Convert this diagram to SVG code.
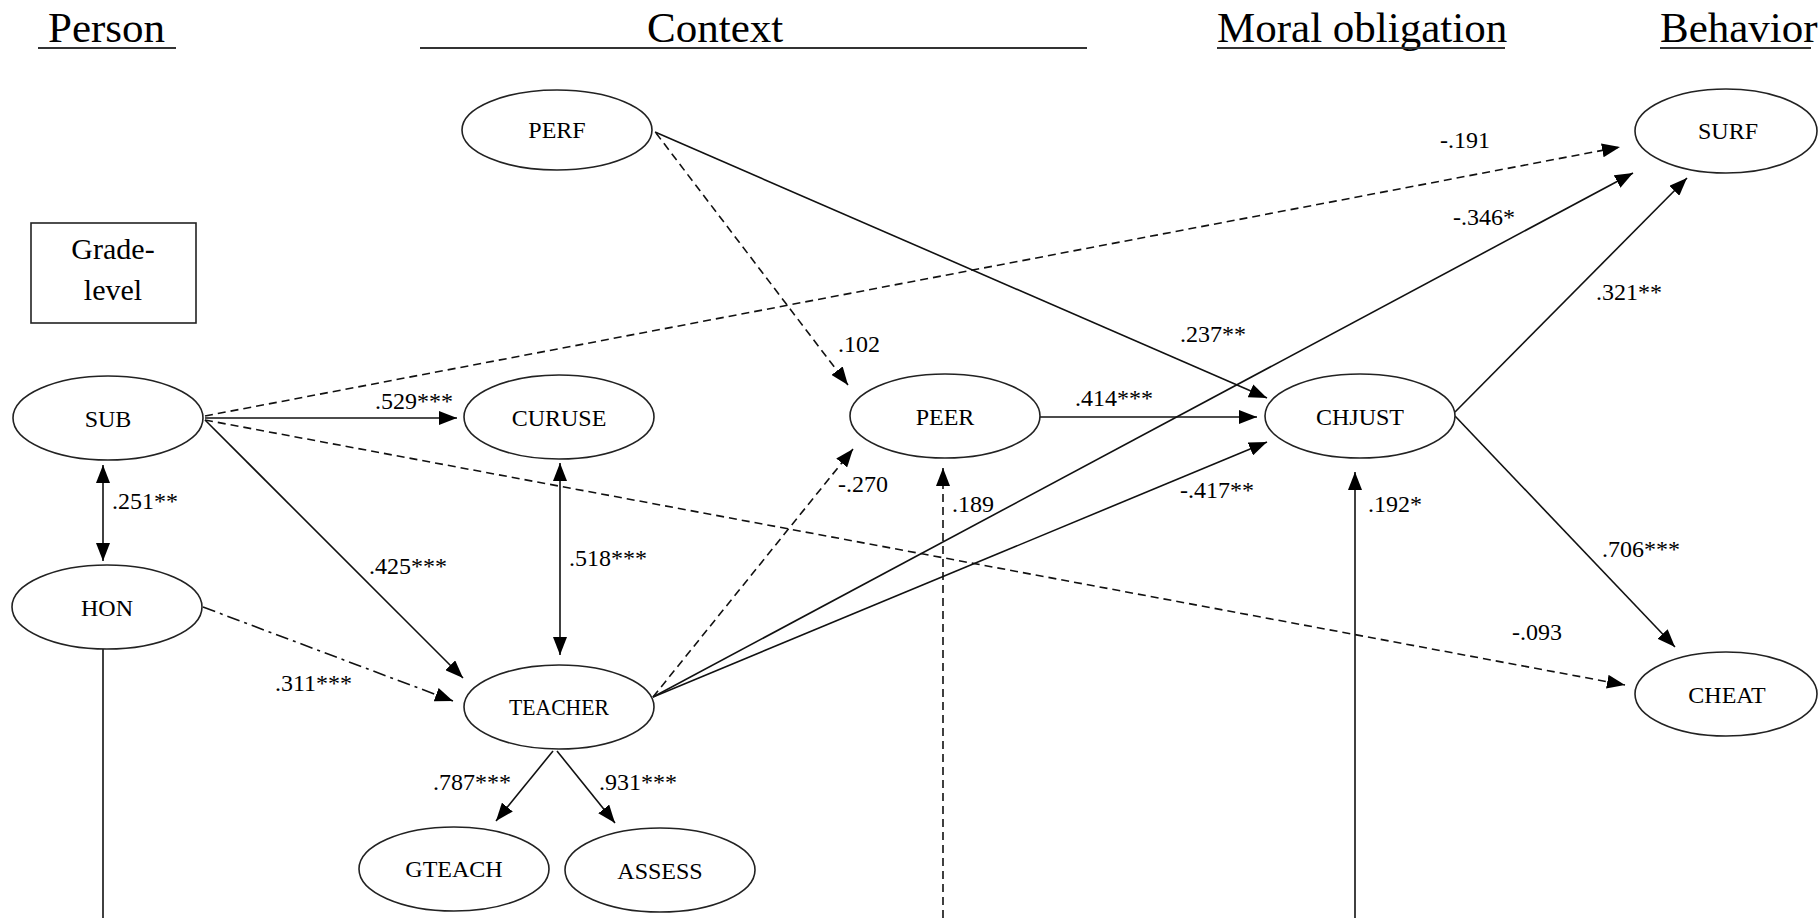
<svg xmlns="http://www.w3.org/2000/svg" width="1818" height="918" viewBox="0 0 1818 918">
  <style>
    text { font-family: "Liberation Serif", "Times New Roman", serif; fill: #000; }
    .hdr { font-size: 43px; }
    .lbl { font-size: 24px; text-anchor: middle; }
    .coef { font-size: 24px; }
    .box { font-size: 30px; text-anchor: middle; }
    .node { fill: #fff; stroke: #222; stroke-width: 1.6; }
    .ul { stroke: #333; stroke-width: 2.2; }
    .edge { fill: none; stroke: #111; stroke-width: 1.6; }
    .dash { stroke-dasharray: 8 5; }
    .dashdot { stroke-dasharray: 13 5 3 5; }
    .arr { marker-end: url(#ah); }
    .both { marker-start: url(#ah); marker-end: url(#ah); }
  </style>
  <defs>
    <marker id="ah" viewBox="0 0 18 14" refX="18" refY="7" markerWidth="18" markerHeight="14" markerUnits="userSpaceOnUse" orient="auto-start-reverse">
      <path d="M0,0 L18,7 L0,14 Z" fill="#000"/>
    </marker>
  </defs>

  <rect width="1818" height="918" fill="#fff"/>

  <!-- column headings -->
  <g id="headers">
    <text class="hdr" x="48" y="42">Person</text>
    <line class="ul" x1="38" y1="48" x2="176" y2="48"/>
    <text class="hdr" x="647" y="42">Context</text>
    <line class="ul" x1="420" y1="48" x2="1087" y2="48"/>
    <text class="hdr" x="1217" y="42">Moral obligation</text>
    <line class="ul" x1="1217" y1="48" x2="1505" y2="48"/>
    <text class="hdr" x="1660" y="42">Behavior</text>
    <line class="ul" x1="1660" y1="48" x2="1811" y2="48"/>
  </g>

  <!-- paths -->
  <g id="connectors">
    <line class="edge arr" x1="205" y1="418" x2="457" y2="418"/>
    <line class="edge dash arr" x1="205" y1="416" x2="1620" y2="147"/>
    <line class="edge dash arr" x1="205" y1="420" x2="1625" y2="685"/>
    <line class="edge arr" x1="205" y1="420" x2="463" y2="678"/>
    <line class="edge both" x1="103" y1="465" x2="103" y2="561"/>
    <line class="edge dashdot arr" x1="203" y1="607" x2="453" y2="701"/>
    <line class="edge" x1="103" y1="649" x2="103" y2="918"/>
    <line class="edge both" x1="560" y1="463" x2="560" y2="655"/>
    <line class="edge arr" x1="553" y1="751" x2="496" y2="821"/>
    <line class="edge arr" x1="557" y1="751" x2="615" y2="823"/>
    <line class="edge dash arr" x1="653" y1="697" x2="853" y2="449"/>
    <line class="edge arr" x1="653" y1="697" x2="1633" y2="173"/>
    <line class="edge arr" x1="653" y1="697" x2="1267" y2="442"/>
    <line class="edge dash arr" x1="656" y1="133" x2="848" y2="385"/>
    <line class="edge arr" x1="655" y1="132" x2="1267" y2="398"/>
    <line class="edge arr" x1="1040" y1="417" x2="1257" y2="417"/>
    <line class="edge dash arr" x1="943" y1="918" x2="943" y2="468"/>
    <line class="edge arr" x1="1355" y1="918" x2="1355" y2="472"/>
    <line class="edge arr" x1="1455" y1="412" x2="1687" y2="178"/>
    <line class="edge arr" x1="1455" y1="416" x2="1675" y2="647"/>

    <text class="coef" x="375" y="409">.529***</text>
    <text class="coef" x="112" y="509">.251**</text>
    <text class="coef" x="369" y="574">.425***</text>
    <text class="coef" x="569" y="566">.518***</text>
    <text class="coef" x="275" y="691">.311***</text>
    <text class="coef" x="433" y="790">.787***</text>
    <text class="coef" x="599" y="790">.931***</text>
    <text class="coef" x="838" y="352">.102</text>
    <text class="coef" x="838" y="492">-.270</text>
    <text class="coef" x="952" y="512">.189</text>
    <text class="coef" x="1075" y="406">.414***</text>
    <text class="coef" x="1180" y="342">.237**</text>
    <text class="coef" x="1180" y="498">-.417**</text>
    <text class="coef" x="1368" y="512">.192*</text>
    <text class="coef" x="1440" y="148">-.191</text>
    <text class="coef" x="1453" y="225">-.346*</text>
    <text class="coef" x="1596" y="300">.321**</text>
    <text class="coef" x="1602" y="557">.706***</text>
    <text class="coef" x="1512" y="640">-.093</text>
  </g>

  <!-- variables -->
  <g id="grade-level">
    <rect x="31" y="223" width="165" height="100" fill="#fff" stroke="#222" stroke-width="1.6"/>
    <text class="box" x="113" y="259">Grade-</text>
    <text class="box" x="113" y="300">level</text>
  </g>
  <g id="PERF">
    <ellipse class="node" cx="557" cy="130" rx="95" ry="40"/>
    <text class="lbl" x="557" y="138">PERF</text>
  </g>
  <g id="SURF">
    <ellipse class="node" cx="1726" cy="131" rx="91" ry="42"/>
    <text class="lbl" x="1728" y="139">SURF</text>
  </g>
  <g id="SUB">
    <ellipse class="node" cx="108" cy="418" rx="95" ry="42"/>
    <text class="lbl" x="108" y="427">SUB</text>
  </g>
  <g id="CURUSE">
    <ellipse class="node" cx="559" cy="417" rx="95" ry="42"/>
    <text class="lbl" x="559" y="426">CURUSE</text>
  </g>
  <g id="PEER">
    <ellipse class="node" cx="945" cy="416" rx="95" ry="42"/>
    <text class="lbl" x="945" y="425">PEER</text>
  </g>
  <g id="CHJUST">
    <ellipse class="node" cx="1360" cy="416" rx="95" ry="42"/>
    <text class="lbl" x="1360" y="425">CHJUST</text>
  </g>
  <g id="HON">
    <ellipse class="node" cx="107" cy="607" rx="95" ry="42"/>
    <text class="lbl" x="107" y="616">HON</text>
  </g>
  <g id="TEACHER">
    <ellipse class="node" cx="559" cy="707" rx="95" ry="42"/>
    <text class="lbl" x="559" y="715" textLength="100" lengthAdjust="spacingAndGlyphs">TEACHER</text>
  </g>
  <g id="CHEAT">
    <ellipse class="node" cx="1726" cy="694" rx="91" ry="42"/>
    <text class="lbl" x="1727" y="703">CHEAT</text>
  </g>
  <g id="GTEACH">
    <ellipse class="node" cx="454" cy="869" rx="95" ry="42"/>
    <text class="lbl" x="454" y="877">GTEACH</text>
  </g>
  <g id="ASSESS">
    <ellipse class="node" cx="660" cy="870" rx="95" ry="42"/>
    <text class="lbl" x="660" y="879">ASSESS</text>
  </g>
</svg>
